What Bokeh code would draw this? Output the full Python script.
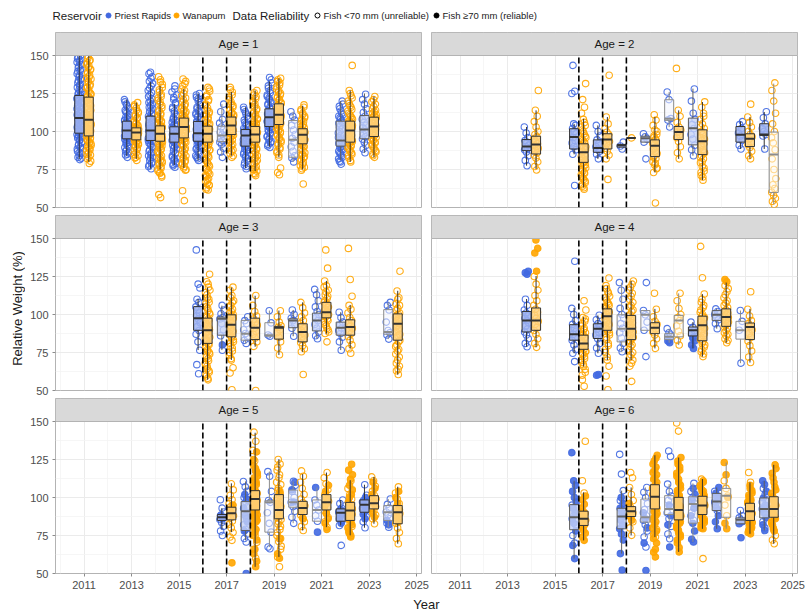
import math
from bokeh.plotting import figure
from bokeh.layouts import column, row
from bokeh.models import Range1d, FixedTicker, ColumnDataSource
from bokeh.core.properties import value
from bokeh.embed import file_html
from bokeh.resources import INLINE

# ---------------- data ----------------
x_ticks = [2011, 2013, 2015, 2017, 2019, 2021, 2023, 2025]
x_minor = [2010, 2012, 2014, 2016, 2018, 2020, 2022, 2024]
y_ticks = [50, 75, 100, 125, 150]
y_minor = [62.5, 87.5, 112.5, 137.5]
dam_years = [2016, 2017, 2018]
reservoir_names = ["Priest Rapids", "Wanapum"]
reliability_names = ["Fish <70 mm (unreliable)", "Fish \u226570 mm (reliable)"]

# ---- Age 1
age1_year = [2011, 2011, 2013, 2013, 2014, 2014, 2015, 2015, 2016, 2016, 2017, 2017,
             2018, 2018, 2019, 2019, 2020, 2020, 2022, 2022, 2023, 2023]
age1_res = ["PR", "W"] * 11
age1_lo = [82, 80, 84, 82, 75.5, 75, 78, 76, 81, 77, 84, 84, 76, 74, 90, 83, 80, 75, 81, 80, 86, 83]
age1_q1 = [98.9, 97.1, 95.2, 94.5, 94.1, 93.6, 93, 95.8, 93.6, 93, 93.4, 98, 90.4, 93, 103.3, 104.6, 83.1, 91.9, 90.4, 93, 95.2, 96.7]
age1_med = [108.8, 107.7, 100.7, 99.3, 100.7, 98.5, 98.5, 102.9, 98.9, 98.5, 97.4, 104, 97.4, 98, 109.4, 111, 94.5, 97.8, 94.1, 100.7, 101.3, 103.3]
age1_q3 = [123.7, 122.6, 106.8, 102.4, 110.1, 103.7, 103.1, 108.8, 106.6, 103.5, 103.5, 109.5, 101.3, 103.3, 114.9, 118.2, 107.2, 101.8, 106.8, 106.8, 110.5, 109.4]
age1_hi = [150, 150, 121, 119, 132.5, 130, 118, 128, 125, 119, 118, 126, 116, 127, 133, 135, 113, 117, 120, 127, 125, 123]
age1_qual = ["R", "R", "R", "R", "R", "R", "R", "R", "R", "R", "U", "R", "R", "R", "R", "R", "U", "R", "M", "R", "M", "R"]
age1_open = [
    [81.5, 83, 85.5, 86, 88.5, 90, 91, 92.5, 94, 95.5, 96, 97.5, 98, 99.5, 100, 101.5, 102, 103.5, 104, 105, 106.5, 107, 108, 109.5, 110, 111, 112.5, 113, 114.5, 116, 117, 118.5, 120, 121.5, 123, 124.5, 126, 127.5, 129, 131, 133.5, 135, 137, 139.5, 141, 143, 145.5, 147, 149],
    [79, 82, 84.5, 86, 87.5, 89, 90.5, 92, 93, 94.5, 95, 96.5, 97, 98.5, 99, 100.5, 101, 102.5, 103, 104.5, 105, 106, 107.5, 108, 109, 110.5, 111, 112.5, 114, 115, 116.5, 118, 119, 120.5, 122, 123.5, 125, 127, 128.5, 130, 132, 134.5, 136, 138, 140.5, 142, 144, 146.5, 148],
    [83, 84.5, 86, 88, 89.5, 91, 92, 93, 94, 94.5, 95.5, 96, 97, 97.5, 98.5, 99, 100, 100.5, 101.5, 102, 103, 103.5, 104.5, 105, 106, 107, 108, 109.5, 111, 112.5, 114, 116, 118, 121],
    [81, 82.5, 84, 86, 87.5, 89, 90.5, 91.5, 92.5, 93.5, 94, 95, 95.5, 96.5, 97, 98, 98.5, 99.5, 100, 101, 101.5, 102.5, 103, 104, 105.5, 107, 108.5, 110, 112, 114, 116.5, 119],
    [75.5, 78, 80, 82.5, 84, 86, 88, 89.5, 91, 92.5, 93.5, 94.5, 95.5, 96.5, 97.5, 98.5, 99.5, 100.5, 101, 102, 103.5, 104.5, 105.5, 107, 108.5, 110, 111.5, 113, 115, 117, 119, 121.5, 124, 127, 130, 133, 136, 139],
    [56.5, 58.5, 70, 72.5, 74, 76, 78, 79.5, 81, 82.5, 84, 85.5, 87, 88, 89.5, 90.5, 91.5, 92.5, 93.5, 94.5, 95.5, 96, 97, 98, 98.5, 99.5, 100.5, 101.5, 102.5, 103.5, 104.5, 106, 107.5, 109, 111, 113, 115.5, 118, 120.5, 123, 126, 129, 132.5, 136],
    [76.5, 78.5, 80, 82, 84, 85.5, 87, 88.5, 90, 91, 92, 93, 94, 95, 95.5, 96.5, 97.5, 98, 99, 100, 100.5, 101.5, 102.5, 103.5, 104.5, 106, 107.5, 109, 111, 113.5, 116, 119, 122.5, 126, 130],
    [54.5, 61, 74.5, 76, 78, 80, 82, 84, 86, 87.5, 89, 90.5, 92, 93.5, 94.5, 95.5, 96.5, 97.5, 98.5, 99.5, 100.5, 101.5, 102.5, 103.5, 104, 105, 106, 107, 108, 109, 110.5, 112, 113.5, 115, 117, 119.5, 122, 125, 128, 131.5, 134.5],
    [81, 83, 85, 87, 88.5, 90, 91.5, 92.5, 93.5, 94.5, 95.5, 96.5, 97, 98, 99, 99.5, 100.5, 101.5, 102.5, 103.5, 104.5, 105.5, 106.5, 108, 109.5, 111, 113, 115, 117.5, 120, 122.5, 125],
    [61.5, 63, 64.5, 66, 67.5, 69, 70.5, 72, 74, 76, 78, 80, 82, 84, 86, 87.5, 89, 90.5, 91.5, 92.5, 93.5, 94.5, 95.5, 96.5, 97.5, 98.5, 99.5, 100.5, 101.5, 102.5, 103.5, 104.5, 106, 107.5, 109, 111, 113, 115.5, 118, 121, 124, 126.5, 129],
    [83, 86.5, 89, 91.5, 93, 94, 95.5, 97, 98, 99.5, 101, 103, 105.5, 108, 113, 118],
    [83, 85.5, 88, 90.5, 92.5, 94.5, 96, 97.5, 98.5, 99.5, 100.5, 101.5, 102.5, 103.5, 104.5, 105.5, 106.5, 107.5, 108.5, 109.5, 111, 112.5, 114.5, 117, 119.5, 122.5, 126, 129],
    [75.5, 78, 80.5, 83, 85, 87, 88.5, 89.5, 90.5, 91.5, 92.5, 93.5, 94.5, 95.5, 96.5, 97.5, 98.5, 99.5, 100.5, 101.5, 103, 105, 107.5, 110, 113, 116],
    [71, 72.5, 74, 76, 78, 80, 82, 84, 86, 87.5, 89, 90.5, 91.5, 92.5, 93.5, 94.5, 95.5, 96.5, 97.5, 98.5, 99.5, 100.5, 101.5, 102.5, 103.5, 104.5, 105.5, 107, 108.5, 110, 112, 114, 116.5, 119, 121.5, 124, 127],
    [89.5, 91.5, 93.5, 95.5, 97, 98.5, 100, 101.5, 102.5, 103.5, 104.5, 105.5, 106.5, 107.5, 108.5, 109.5, 110.5, 111.5, 112.5, 113.5, 114.5, 116, 117.5, 119, 121, 123, 125.5, 128.5, 132, 135.5],
    [71.5, 73, 76, 83, 86, 88.5, 91, 93, 95, 97, 99, 100.5, 102, 103.5, 104.5, 105.5, 106.5, 107.5, 108.5, 109.5, 110.5, 111.5, 112.5, 113.5, 114.5, 115.5, 116.5, 117.5, 119, 120.5, 122, 124, 126, 128, 130.5, 133, 135],
    [80, 82.5, 84, 87, 90, 93, 95.5, 98, 101, 104, 107.5, 110, 113],
    [65.5, 74.5, 76.5, 78.5, 80.5, 82.5, 84.5, 86, 87.5, 89, 90, 91, 92, 93, 94, 95, 96, 96.5, 97.5, 98.5, 99.5, 100.5, 101.5, 102.5, 103.5, 105, 106.5, 108, 110, 112, 114.5, 117.5],
    [78.5, 80.5, 83, 85, 87, 88.5, 89.5, 90.5, 91.5, 92.5, 93.5, 94.5, 96, 98, 100, 102, 104, 105.5, 107, 109, 111, 113.5, 116.5, 120],
    [80, 82.5, 85, 87, 89, 90.5, 92, 93.5, 95, 96.5, 97.5, 98.5, 99.5, 100.5, 101.5, 102.5, 103.5, 104.5, 105.5, 106.5, 108, 110, 112, 114.5, 117, 120, 123.5, 127, 143.5],
    [86, 88.5, 91, 93, 95, 96.5, 98, 99.5, 101, 102.5, 104, 106, 108, 110, 112.5, 115, 118, 121, 124.5],
    [83, 85, 87.5, 89.5, 91.5, 93, 94.5, 96, 97, 98, 99, 100, 101, 102, 103, 104, 105, 106, 107, 108, 109, 110.5, 112, 114, 116.5, 119.5, 123],
]
# second reading pass of the densest age-1 clouds (group index -> values)
age1_open_more = {
    0: [82.5, 84, 87, 89, 91.5, 93, 94.5, 96.5, 98.5, 100.5, 102.5, 104.5, 105.5, 107.5, 108.5, 110.5, 111.5, 113.5, 115, 116.5, 118, 119, 121, 122, 124, 125.5, 128, 130, 132, 134, 136, 138, 140, 142, 144, 146, 148, 150],
    1: [80.5, 83, 85, 88, 89.5, 91, 92.5, 94, 96, 97.5, 99.5, 101.5, 102, 104, 105.5, 106.5, 108.5, 109.5, 111.5, 113, 114.5, 117, 118.5, 120, 121, 123, 124.5, 126, 129, 131, 133, 135, 137, 139, 141, 143, 145, 147, 149.5],
    2: [85, 87, 90, 92.5, 95, 96.5, 98, 99.5, 101, 102.5, 104, 105.5, 107.5, 110, 113, 115, 117, 119.5],
    3: [83, 85, 88, 90, 92, 93, 94.5, 96, 97.5, 99, 100.5, 102, 103.5, 105, 106, 109, 111, 113, 115.5, 117.5],
    4: [77, 79, 81, 83, 85, 87, 90, 92, 94, 96, 98, 100, 102.5, 104, 106, 109, 112, 114, 116, 118, 120, 123, 125.5, 128.5, 131.5, 135, 138],
    5: [71, 73, 75, 77, 79, 80.5, 83, 86, 88.5, 91, 93, 95, 96.5, 97.5, 99, 100, 101, 102, 103, 104, 105, 107, 108.5, 110, 112, 114, 117, 119.5, 122, 124.5, 127.5, 131, 134],
    6: [77.5, 79, 81, 83, 86, 89, 91.5, 93.5, 96, 98.5, 101, 103, 105, 108, 110, 112, 115, 118, 121, 124, 128],
    7: [75, 77, 79, 81, 83, 85, 88, 91, 93, 95, 97, 99, 101, 103, 104.5, 105.5, 106.5, 107.5, 108.5, 110, 111, 113, 114.5, 116, 118, 121, 123.5, 127, 130, 133],
    8: [82, 84, 86, 89, 91, 93, 95, 97.5, 100, 102, 104, 106, 107.5, 110, 112, 114, 116, 119, 121.5, 124],
    9: [62, 65, 68, 71, 73, 75, 77, 79, 81, 83, 85, 88, 91, 93, 95, 97, 99, 101, 103, 105, 108, 110, 112, 114, 117, 120, 123, 128],
    11: [84, 87, 89, 91.5, 93.5, 95, 97, 99, 101, 103, 105, 107, 109, 110, 112, 114, 116, 118, 121, 124, 127.5],
    12: [77, 79.5, 82, 84, 86, 88, 90, 92, 94, 96, 98, 100, 102, 104, 106, 108.5, 111.5, 114.5],
    13: [72, 75, 77, 79, 81, 83, 85, 88, 91, 93, 95, 97, 99, 101, 103, 105, 106, 108, 111, 113, 115, 118, 120, 123, 125.5],
    14: [90.5, 92.5, 94.5, 96.5, 99, 101, 103, 105, 107, 109, 111, 113, 115, 118, 120, 122, 124, 127, 130, 134],
    15: [84.5, 87, 89.5, 92, 94, 96, 98, 100, 101.5, 103, 105, 107, 109, 111, 113, 115, 117, 118.5, 121, 123, 125, 127, 129.5, 132, 134],
    17: [75.5, 77.5, 79.5, 81.5, 83.5, 85, 88, 90.5, 92.5, 94.5, 96, 97, 99, 101, 103, 104.5, 107, 109, 111, 113.5, 116],
    18: [80, 82, 84, 86, 88, 90, 92, 95, 97, 99, 101, 103, 106, 108, 110, 112, 115, 118],
    19: [81, 84, 86, 88, 90, 91, 93, 94.5, 96, 98, 100, 102, 104, 106, 107, 109, 111, 113.5, 116, 118.5, 122, 125],
    21: [84, 86.5, 88.5, 90.5, 92.5, 94, 95.5, 97.5, 99.5, 101.5, 103.5, 105.5, 107.5, 109.5, 111, 113, 115, 118, 121],
}
age1_filled = [[] for _ in age1_year]
age1_filled_more = {}

# ---- Age 2
age2_year = [2014, 2014, 2016, 2016, 2017, 2017, 2018, 2018, 2019, 2019, 2020, 2020, 2021, 2021, 2023, 2023, 2024, 2024]
age2_res = ["PR", "W"] * 9
age2_lo = [77.5, 75.3, 85, 63.2, 82, 82, 89.7, 95.8, 93, 73.1, 102.9, 82, 84.1, 68.1, 88.5, 82, 88.5, 52.2]
age2_q1 = [87.4, 85.2, 88.5, 79.7, 86.3, 88.5, 89.7, 95.8, 93, 83.5, 107.3, 94.7, 91.2, 84.8, 93, 90.1, 97.4, 59.9]
age2_med = [90.1, 91.4, 96.3, 86.3, 89.2, 94.7, 91, 95.8, 95.6, 90.7, 108.4, 99.6, 102.2, 93.6, 97.8, 95.2, 98, 84.8]
age2_q3 = [94.7, 96.9, 101.8, 91.9, 94.5, 98.5, 91.5, 95.8, 96.9, 94.5, 120.9, 103.3, 108.8, 101.1, 103.3, 98.5, 105.1, 99.6]
age2_hi = [103, 113.9, 105, 108.4, 104, 109.5, 91.5, 95.8, 98.5, 109.5, 126, 113.9, 128.2, 119.4, 106.6, 109.5, 112.8, 131.5]
age2_qual = ["R", "R", "R", "R", "R", "R", "R", "R", "M", "R", "U", "R", "M", "R", "R", "R", "R", "U"]
age2_open = [
    [77.5, 81, 84, 86.5, 88, 89, 90, 91, 92.5, 94, 96, 99, 103],
    [74.7, 77, 80, 82.5, 84.5, 86, 87.5, 89, 90, 91, 92, 93.5, 95, 96.5, 98, 100, 103, 106.5, 110, 114, 127],
    [64.5, 85, 88, 90, 92.5, 94, 96, 98.5, 100, 102, 104, 105, 125, 126.5, 143.5],
    [62, 64, 66.5, 68.5, 70.5, 72.5, 74, 76, 77.5, 79, 80.5, 82, 83.5, 85, 86.5, 88, 89.5, 91, 92.5, 94, 96, 98.5, 101, 104, 108, 112, 116, 121, 131.5],
    [82, 85, 87, 88.5, 90, 92, 94.5, 97, 100, 104],
    [68.5, 82, 84.5, 87, 89, 90.5, 92, 93.5, 95, 96.5, 98, 99.5, 102, 105, 109.5, 137],
    [88.5, 90.5, 93],
    [95.8],
    [82, 93, 95, 96.5, 98.5],
    [53, 73, 75.5, 78, 80, 82, 84, 85.5, 87, 88.5, 90, 91.5, 93, 94.5, 96, 98, 101, 104, 107.5, 111],
    [103, 107.5, 108.5, 121, 126],
    [82, 86, 90, 93.5, 96, 98, 99.5, 101, 103, 106, 110, 114, 141.5],
    [84, 88, 91, 95, 98, 102, 104.5, 108, 112, 120, 128],
    [68, 71, 74, 77, 79.5, 82, 84, 86, 88, 90, 92, 94, 96, 98, 100, 102, 105, 108, 112, 116, 119.5],
    [88.5, 91, 94, 97, 99, 102, 104.5, 106.5],
    [82, 84, 87, 89.5, 91.5, 93, 95, 96.5, 98, 100, 103, 106, 109.5, 118],
    [88.5, 97, 98, 100, 102, 105, 109, 113],
    [52, 54, 56, 58, 60, 62.5, 65, 69, 75, 82, 88, 92.5, 96, 100, 105, 112, 120, 127, 132],
]
age2_open_more = {
    3: [63, 65, 67.5, 69.5, 71.5, 73, 75, 78, 79.5, 81, 84, 87, 90, 93, 95, 97, 100, 103, 106],
    9: [76, 79, 83, 86, 89, 92, 95, 97, 100],
    13: [70, 73, 76, 80, 83, 87, 91, 95, 99, 103, 110],
}
age2_filled = [[] for _ in age2_year]
age2_filled_more = {}

# ---- Age 3
age3_year = [2016, 2016, 2017, 2017, 2018, 2018, 2019, 2019, 2020, 2020, 2021, 2021, 2022, 2022, 2024, 2024]
age3_res = ["PR", "W"] * 8
age3_lo = [76.6, 57.1, 76.6, 70.1, 80.9, 78.8, 85.7, 73.4, 85.7, 75.5, 84.2, 87.4, 76.6, 77.7, 83.8, 60.4]
age3_q1 = [89.6, 81, 86.4, 85.3, 83.1, 83.5, 85.7, 83.8, 91.3, 82, 89.2, 97.8, 86.4, 86.4, 87, 83.1]
age3_med = [97.6, 89.6, 97.2, 93.3, 87.4, 91.3, 86.4, 91.3, 96.1, 88.5, 96.1, 101.5, 91.3, 91.8, 88.5, 93.9]
age3_q3 = [105.2, 97.6, 98.3, 99.8, 96.1, 97.6, 94.6, 92.2, 97.2, 93.9, 100.9, 108, 95, 96.5, 103.2, 100.4]
age3_hi = [110.2, 117.7, 105.8, 117.7, 98.3, 112.3, 102.6, 102.6, 103, 108, 116.7, 122.1, 101.5, 106.3, 108, 115.6]
age3_qual = ["R", "R", "M", "R", "U", "R", "U", "R", "M", "R", "M", "R", "M", "R", "U", "R"]
age3_open = [
    [61, 67, 76.5, 82, 87, 89.5, 92, 94.5, 97, 99, 101, 103, 105, 108, 110, 117.5, 120, 142.5],
    [57, 59.5, 62, 64.5, 67, 69.5, 72, 74, 76, 78, 80, 82, 84, 86, 88, 90, 92, 94, 96, 98, 100, 102.5, 105, 108, 111, 114.5, 118, 121.5, 126.5],
    [76.5, 86, 90, 94, 97, 98, 100.5, 103, 106],
    [50.5, 61.5, 65, 70, 73, 76, 79, 82, 84.5, 86.5, 88.5, 90.5, 92.5, 94, 96, 97.5, 99, 101, 103.5, 106, 109, 112.5, 116, 118],
    [81, 83, 85.5, 87.5, 90, 94, 96, 98.5],
    [50, 79, 82, 84.5, 87, 89, 91, 93, 95, 97, 99, 102, 106, 112.5],
    [85.7, 86.5, 94.5, 102.5],
    [73.5, 78, 82, 85, 88, 90, 91.5, 92.5, 95, 98.5, 102.5],
    [85.7, 91, 93.5, 96, 97.5, 100, 103],
    [60.5, 75.5, 77.5, 79.5, 81.5, 83.5, 85, 86.5, 88, 89.5, 91, 92.5, 94, 96, 98.5, 101, 104.5, 108],
    [84, 86, 88.5, 91, 93.5, 96, 98, 100, 102, 105, 109, 113, 116.5],
    [82, 87.5, 90, 92.5, 95, 97, 98.5, 100, 101.5, 103, 104.5, 106, 108, 110.5, 113, 116, 119, 122, 130.5, 142.5],
    [76.5, 82, 85, 87.5, 89.5, 91, 93, 95, 98, 101.5],
    [74.5, 77.5, 80, 83, 85.5, 87.5, 89.5, 91, 92.5, 94, 96, 98, 101, 103.5, 106, 112, 123, 143.5],
    [83.8, 86.5, 88, 89.5, 95, 103, 106, 108],
    [60.5, 63, 66, 70, 74, 77, 80, 83, 86, 88.5, 91, 93, 95, 97, 99, 101, 104, 107, 111, 115.5, 128.5],
]
age3_open_more = {
    1: [58, 60.5, 63, 66, 68, 71, 73, 75, 77, 79, 81, 83, 85, 87, 89, 91, 93, 95, 97, 99, 101, 104, 107, 110, 113, 116, 120],
    3: [71, 75, 78, 81, 83.5, 85.5, 87.5, 89.5, 91.5, 93, 95, 98.5, 100, 102, 105, 108, 111],
    11: [88.5, 91, 93.5, 96, 99, 100.5, 102, 103.5, 105, 107, 109, 112, 115, 118],
    15: [64, 68, 72, 76, 79, 82, 85, 87, 90, 92, 94, 96, 98, 100, 103, 106, 110],
}
age3_filled = [[], [], [80], [], [], [], [], [], [], [], [], [], [], [], [], []]
age3_filled_more = {}

# ---- Age 4
age4_year = [2014, 2014, 2016, 2016, 2017, 2017, 2018, 2018, 2019, 2019, 2020, 2020, 2021, 2021, 2022, 2022, 2023, 2023]
age4_res = ["PR", "W"] * 9
age4_lo = [78.8, 78.4, 74.5, 65.8, 74.5, 70.1, 75.5, 70, 89.6, 77.7, 81.4, 79.9, 77.7, 72.3, 90.7, 81.4, 68, 68.4]
age4_q1 = [88.5, 89.6, 83.1, 77.1, 84.2, 89.6, 82, 83.5, 89.6, 87.4, 83.5, 85.3, 85.9, 82.7, 96.1, 92.2, 83.8, 83.5]
age4_med = [96.1, 96.1, 87, 81, 90.7, 98.9, 90.7, 90.7, 99.8, 91.3, 85.3, 96.1, 89.6, 92.9, 99.8, 98.3, 89.6, 91.8]
age4_q3 = [102, 104.3, 93.3, 86.4, 93.9, 103.7, 99.8, 99.4, 102.6, 94.6, 87.4, 99.4, 91.8, 98.9, 102.6, 103.7, 95.5, 94.4]
age4_hi = [110.2, 125.3, 104.3, 98.3, 99.4, 118.8, 121, 122, 102.6, 103.7, 90.7, 113.9, 95, 113.4, 103.7, 121, 102.6, 103.7]
age4_qual = ["R", "R", "R", "R", "R", "R", "U", "R", "U", "R", "U", "U", "R", "R", "M", "R", "U", "R"]
age4_open = [
    [78.8, 81, 84, 86.5, 88.5, 90.5, 92.5, 94.5, 96, 97.5, 99, 101, 103, 106, 110],
    [78.4, 81, 84, 87, 89.5, 91.5, 93.5, 95.5, 97.5, 99.5, 101.5, 103.5, 106, 109, 112.5, 116, 120, 125],
    [69, 74.5, 77, 80, 83, 85, 87, 89, 91, 93.5, 96, 100, 104, 135],
    [52.8, 57, 62, 65.8, 68.5, 71, 73.5, 75.5, 77, 78.5, 80, 81.5, 83, 84.5, 86, 88, 90, 92.5, 95.5, 98, 103, 109],
    [74.5, 78, 81, 84, 86.5, 88.5, 90.5, 92, 94, 96.5, 99.5],
    [50.5, 59.5, 66, 70, 75, 79.5, 83.5, 86.5, 89, 91, 93, 95, 97, 98.5, 100, 101.5, 103, 105, 107, 109.5, 112, 115, 119, 124],
    [75.5, 78, 81, 84.5, 88, 91, 94, 97.5, 100, 104, 110, 116, 121],
    [56, 66, 70, 73.5, 77, 80, 82.5, 85, 87.5, 89.5, 91.5, 93.5, 95.5, 97.5, 100, 103, 106, 110, 114, 118, 122],
    [72.3, 89.6, 95, 99.8, 102.6, 121],
    [77.7, 81, 84, 86.5, 88.5, 90.5, 92, 93.5, 95.5, 98.5, 103.5, 114],
    [83.5, 85, 86.5, 88, 90.7],
    [79.9, 83, 86, 89, 92.5, 96, 98, 100, 104, 109, 114],
    [85, 87, 89.5, 91.5, 95],
    [72.3, 75.5, 78.5, 81, 83.5, 86, 88.5, 91, 93, 95, 97, 99, 101.5, 104.5, 108, 113.5, 124.2, 144.8],
    [90.7, 94, 96.5, 98.5, 100, 102, 103.7],
    [81.4, 84, 87, 89.5, 92, 94, 96, 98, 100, 102, 104.5, 107.5, 111, 115, 119],
    [68, 89.6, 95.5, 102.6],
    [68.4, 72, 76, 79.5, 82.5, 85, 87.5, 90, 92, 94, 96, 99, 103.5, 115],
]
age4_open_more = {
    3: [60, 64, 67, 70, 72.5, 74.5, 76, 79, 82, 85, 87, 89, 91, 94, 97],
    5: [72, 77, 81, 85, 88, 90, 92, 94, 96, 99, 102, 104, 106, 108, 111, 114, 117],
    7: [68, 72, 75, 79, 81, 84, 86.5, 88.5, 90.5, 92.5, 94.5, 96.5, 99, 102, 105, 108, 112, 116, 120],
    13: [74, 77, 80, 82, 85, 87.5, 90, 92, 94, 96, 98, 100, 103, 106, 110],
    15: [83, 86, 88, 91, 93, 95, 97, 99, 101, 103, 106, 109, 113, 117],
}
age4_filled = [[126.5, 127.5, 128.5], [128.5, 140.5, 143.5, 149], [], [], [60.5, 60], [], [], [], [], [],
               [81.4, 82.5], [], [77.7, 80, 82.5, 84.5], [], [], [121.5, 123], [], []]
age4_filled_more = {}

# ---- Age 5
age5_year = [2017, 2017, 2018, 2018, 2019, 2019, 2020, 2020, 2021, 2021, 2022, 2022, 2023, 2023, 2024, 2024]
age5_res = ["PR", "W"] * 8
age5_lo = [79, 77.2, 71.8, 54.4, 67.4, 60.9, 83.1, 78.3, 84.4, 80.5, 81.6, 75.1, 80.1, 82.7, 80.5, 69.6]
age5_q1 = [84.9, 85.3, 78.3, 91.8, 77.2, 86, 93.6, 88.8, 84.4, 91.8, 84.4, 84.9, 90.3, 92.5, 84.9, 82.7]
age5_med = [87, 89.7, 91, 99, 96.8, 91.8, 96.8, 93.1, 91.8, 96.8, 89.9, 91.4, 95.3, 96.2, 90.3, 90.3]
age5_q3 = [88.8, 93.6, 97.3, 104.5, 97.9, 101.9, 104.9, 97.5, 98.4, 101.9, 92.5, 96.8, 98.4, 101.2, 94.7, 94.7]
age5_hi = [93, 109.3, 110.6, 142.6, 117.1, 125.2, 110.6, 115.4, 106.6, 116.4, 98.4, 111.4, 108.4, 113.6, 99, 107.1]
age5_qual = ["R", "R", "M", "R", "U", "R", "U", "R", "U", "R", "R", "R", "R", "R", "U", "R"]
age5_open = [
    [75, 78, 81, 83.5, 85.5, 87, 88.5, 90.5, 93, 98.5],
    [71.8, 74, 77, 80, 82.5, 84.5, 86.5, 88, 89.5, 91, 92.5, 94, 96, 98.5, 101.5, 105, 109],
    [70.7, 73, 76, 79, 82, 86, 90, 94, 97, 100, 104, 107, 110.5],
    [60, 66, 70.5, 75, 80, 86, 92, 98, 104, 110, 117, 124, 131, 137, 143],
    [66.3, 67.4, 77.2, 83, 90, 96.8, 98, 104, 114, 117],
    [54.4, 60.9, 66, 71, 75, 79, 82.5, 85.5, 88, 90.5, 93, 95.5, 98, 101, 104.5, 108.5, 113, 118, 122, 125],
    [83, 87, 91, 94, 96.8, 100, 104, 108, 110.6],
    [78.3, 81, 84, 86.5, 88.5, 90.5, 92.5, 94.5, 96.5, 99, 102, 106, 110, 114, 117.5],
    [84.4, 88, 91.8, 95, 98.4],
    [80.5, 84, 87, 89.5, 91.5, 93.5, 95.5, 97.5, 99.5, 102, 105, 109, 113, 116.4],
    [68.5, 81.6, 85, 88, 90.5, 93, 96, 98.4],
    [75, 78, 81, 83.5, 86, 88.5, 90.5, 92.5, 94.5, 96.5, 99, 102, 106, 111],
    [80.1, 84, 87.5, 90.5, 93, 95.5, 98, 101.5, 108.4],
    [82.7, 86, 88.5, 91, 93, 95, 97, 99, 101.5, 104, 107.5, 111, 113.6],
    [80.5, 83, 86, 88.5, 90.5, 93, 95.5, 99],
    [69.6, 73, 77, 80, 83, 85.5, 87.5, 89.5, 91.5, 93.5, 96, 99, 103, 107],
]
age5_open_more = {
    5: [68, 73, 77, 81, 84, 87, 89, 92, 94, 97, 99.5, 102.5, 106, 110, 115, 120],
}
age5_filled = [
    [86, 88],
    [57, 90, 95],
    [50, 78, 84, 88, 93, 99, 102],
    [54.5, 63, 72, 77, 81, 84, 86.5, 88.5, 90.5, 92.5, 94.5, 96.5, 98, 99.5, 101, 102.5, 104, 106, 108.5, 111, 114, 117.5, 121],
    [],
    [60, 63, 73, 88, 96, 104],
    [97, 105, 110],
    [86, 91, 95],
    [77.2, 106.6],
    [79, 83, 86, 90, 94, 99, 104, 108],
    [83, 86, 89, 92],
    [74, 77, 82, 87, 91, 95, 100, 105, 112, 118, 121.9],
    [86, 89, 92, 94.5, 97, 100],
    [87, 90, 94, 98, 102, 106, 110],
    [82, 85],
    [84, 88, 92, 96, 100, 104],
]
age5_filled_more = {
    3: [58, 66, 75, 79, 83, 85, 87.5, 89.5, 91.5, 93.5, 95.5, 97.5, 100, 103, 105, 107, 110, 113, 116, 119, 125, 130],
    11: [76, 80, 84, 86, 89, 93, 97, 102, 108, 115],
}

# ---- Age 6
age6_year = [2016, 2016, 2018, 2018, 2019, 2019, 2020, 2020, 2021, 2021, 2022, 2022, 2023, 2023, 2024, 2024]
age6_res = ["PR", "W"] * 8
age6_lo = [59.8, 71.8, 63.1, 75.1, 74, 74, 72.9, 64.2, 70.7, 79.4, 79.4, 79.4, 82.7, 76.1, 78.3, 69.6]
age6_q1 = [78.8, 81.6, 79.4, 87.5, 83.8, 92.5, 88.8, 85.3, 83.1, 88.8, 91.4, 87, 82.7, 84.9, 86.6, 87]
age6_med = [87, 86, 87.5, 91, 87, 100.5, 92.5, 91.8, 95.8, 94.7, 97.3, 101.2, 85.3, 91, 92.5, 92.5]
age6_q3 = [95.3, 91, 92.9, 94, 99, 108.4, 101.2, 100.1, 100.5, 100.8, 102.7, 106, 86.6, 96.2, 99.7, 100.5]
age6_hi = [111, 103.4, 104.5, 106.6, 106.6, 127.8, 108.8, 126.3, 109.3, 112.1, 106.6, 123, 91.4, 109.9, 111, 121.5]
age6_qual = ["M", "R", "M", "R", "U", "R", "U", "R", "U", "R", "M", "U", "M", "R", "M", "R"]
age6_open = [
    [70, 75, 82, 88, 95],
    [103, 111, 137],
    [92, 98, 104.5, 115.4, 128.4],
    [75.1, 80, 84, 87, 89.5, 91.5, 94, 98, 102, 106.6, 113, 116.4],
    [67.4, 74, 78, 82, 85, 88, 92, 96, 100, 103.5, 106.6],
    [74, 76, 79],
    [72.9, 76, 81, 86, 90, 94, 98, 101, 104, 108.8, 127, 130.6],
    [75, 80, 84, 143.7, 149],
    [85, 90, 96, 100, 104, 109.3],
    [59.8, 80, 86, 92, 98, 104, 112.1],
    [91.4, 95, 98, 101, 104],
    [88, 95, 101, 106, 111],
    [85.3, 86.6, 88, 91.4],
    [110, 116.4],
    [80, 84, 89, 93, 97, 102, 106],
    [69.6, 72, 75, 79, 83, 87, 91, 95, 99, 103],
]
age6_open_more = {}
age6_filled = [
    [59.8, 68.5, 78, 83, 86, 90, 93, 97, 100, 104, 108, 111, 129.5],
    [71.8, 74, 76.5, 78.5, 80.5, 82, 83.5, 85, 86.5, 88, 89.5, 91, 93, 95.5, 98.5, 101],
    [52.2, 63.1, 72, 76, 79.4, 82, 85, 87.5, 90, 92.9, 96, 100],
    [85, 88, 90, 92, 96],
    [52, 70, 80, 86, 90],
    [60.9, 64, 70, 76.5, 80, 84, 87, 89.5, 92, 94.5, 97, 99.5, 102, 104.5, 107, 110, 113, 116.5, 120, 124, 127.8],
    [67.4, 82, 88, 95],
    [64.2, 70, 74, 77, 80, 83, 85.5, 87.5, 89.5, 91.5, 93.5, 95.5, 97.5, 100, 103, 106, 110, 114, 118, 122, 126.3],
    [70.7, 72.5, 78, 83, 88, 93, 98, 102, 106],
    [79.4, 82, 85, 87.5, 89.5, 91.5, 93.5, 95.5, 97.5, 99.5, 102, 105, 108, 111],
    [79.4, 84, 88, 93, 97, 100, 102.7, 106.6],
    [79.4, 83, 100, 115, 123],
    [73.5, 82.7, 84],
    [76.1, 78.5, 80.5, 82.5, 84.5, 86.5, 88, 89.5, 91, 92.5, 94, 95.5, 97, 99, 101.5, 104.5, 108],
    [78.3, 82, 86.6, 90, 92.5, 95, 99.7, 104, 108.5, 111],
    [78, 82, 86, 89, 92.5, 96, 100.5, 105, 110, 116, 121.5],
]
age6_filled_more = {
    5: [66, 73, 78, 82, 85.5, 88, 91, 93, 96, 98, 101, 103, 106, 108.5, 112, 115, 118, 122, 126],
    7: [67, 72, 75.5, 78.5, 81.5, 84, 86.5, 88.5, 90.5, 92.5, 94.5, 96.5, 99, 101.5, 104.5, 108, 112, 116, 120, 124],
    9: [80.5, 83.5, 86, 88.5, 90.5, 92.5, 94.5, 96.5, 98.5, 101, 104, 107, 110],
    13: [77, 79.5, 81.5, 83.5, 85.5, 87, 90, 93, 96, 98, 100, 103, 106],
    15: [80, 84, 87.5, 90.5, 94, 98, 102.5, 107, 113, 119],
}

# ---------------- styling / layout ----------------
FONT = "Liberation Sans"
COL = {"PR": "#4169E1", "W": "#FFA500"}
DODGE = {"PR": -0.2, "W": 0.2}
BOX_W = 0.38
JIT = 0.1
PT_SIZE = 6.5
QUAL_STYLE = {"R": (0.5, "#333333", 0.85), "M": (0.3, "#5E5E5E", 0.8), "U": (0.07, "#8C8C8C", 0.55)}
X0, X1 = 2009.8, 2025.2
Y0, Y1 = 50, 150
PLOT_H = 152          # px of the data area
STRIP_H = 23          # px of the facet strip
GAP = 8               # px between facet rows
AXIS_H = 20           # px for the bottom axis
PX_PER_UNIT = PLOT_H / (Y1 - Y0)
Y_TOP = Y1 + STRIP_H / PX_PER_UNIT   # top of strip in data units


def blend(hexc, a):
    r, g, b = int(hexc[1:3], 16), int(hexc[3:5], 16), int(hexc[5:7], 16)
    return "#%02x%02x%02x" % (round(255 + (r - 255) * a), round(255 + (g - 255) * a), round(255 + (b - 255) * a))


PANELS = {
    1: (age1_year, age1_res, age1_lo, age1_q1, age1_med, age1_q3, age1_hi, age1_qual,
        age1_open, age1_open_more, age1_filled, age1_filled_more),
    2: (age2_year, age2_res, age2_lo, age2_q1, age2_med, age2_q3, age2_hi, age2_qual,
        age2_open, age2_open_more, age2_filled, age2_filled_more),
    3: (age3_year, age3_res, age3_lo, age3_q1, age3_med, age3_q3, age3_hi, age3_qual,
        age3_open, age3_open_more, age3_filled, age3_filled_more),
    4: (age4_year, age4_res, age4_lo, age4_q1, age4_med, age4_q3, age4_hi, age4_qual,
        age4_open, age4_open_more, age4_filled, age4_filled_more),
    5: (age5_year, age5_res, age5_lo, age5_q1, age5_med, age5_q3, age5_hi, age5_qual,
        age5_open, age5_open_more, age5_filled, age5_filled_more),
    6: (age6_year, age6_res, age6_lo, age6_q1, age6_med, age6_q3, age6_hi, age6_qual,
        age6_open, age6_open_more, age6_filled, age6_filled_more),
}

COMMON = dict(output_backend="svg", toolbar_location=None, title_location=None)


def make_panel(age, left, bottom):
    years, res, lo, q1, med, q3, hi, qual, opn, opn2, fil, fil2 = PANELS[age]
    p = figure(width=404 if left else 380, height=STRIP_H + PLOT_H + (AXIS_H if bottom else GAP),
               x_range=Range1d(X0, X1), y_range=Range1d(Y0, Y_TOP),
               x_axis_location="below" if bottom else None,
               y_axis_location="left" if left else None,
               min_border_left=30 if left else 2, min_border_right=8 if left else 12,
               min_border_top=0, min_border_bottom=AXIS_H if bottom else GAP, **COMMON)
    xt = FixedTicker(ticks=x_ticks, minor_ticks=x_minor)
    yt = FixedTicker(ticks=y_ticks, minor_ticks=y_minor)
    p.xgrid.ticker = xt
    p.ygrid.ticker = yt
    for g in (p.xgrid, p.ygrid):
        g.grid_line_color = "#EBEBEB"
        g.grid_line_width = 1
        g.minor_grid_line_color = "#F4F4F4"
        g.minor_grid_line_width = 0.8
    p.outline_line_color = "#B3B3B3"
    p.outline_line_width = 1
    axes = []
    if left:
        p.yaxis.ticker = yt
        axes.append(p.yaxis)
    if bottom:
        p.xaxis.ticker = xt
        axes.append(p.xaxis)
    for ax in axes:
        ax.axis_line_color = None
        ax.major_tick_line_color = "#8C8C8C"
        ax.major_tick_out = 3
        ax.major_tick_in = 0
        ax.minor_tick_line_color = None
        ax.major_label_text_font = FONT
        ax.major_label_text_font_size = "11px"
        ax.major_label_text_color = "#4D4D4D"
        ax.major_label_standoff = 3

    # jittered points (drawn below the boxes)
    for rc in ("PR", "W"):
        for filled in (False, True):
            xs, ys = [], []
            for k in range(len(years)):
                if res[k] != rc:
                    continue
                vals = (fil[k] + fil2.get(k, [])) if filled else (opn[k] + opn2.get(k, []))
                c = years[k] + DODGE[rc]
                for i, v in enumerate(vals):
                    xs.append(c + JIT * 2 * ((((i + 1) * 0.6180339887) % 1.0) - 0.5))
                    ys.append(v)
            if xs:
                p.scatter(xs, ys, marker="circle", size=PT_SIZE, line_color=COL[rc], line_width=1.1,
                          line_alpha=0.9, fill_color=COL[rc] if filled else None, fill_alpha=0.9)

    bx = dict(x=[], xl=[], xr=[], lo=[], q1=[], med=[], q3=[], hi=[], fill=[], edge=[], fa=[])
    for k in range(len(years)):
        c = years[k] + DODGE[res[k]]
        a, edge, fa = QUAL_STYLE[qual[k]]
        bx["x"].append(c)
        bx["xl"].append(c - BOX_W / 2)
        bx["xr"].append(c + BOX_W / 2)
        bx["lo"].append(lo[k])
        bx["q1"].append(q1[k])
        bx["med"].append(med[k])
        bx["q3"].append(q3[k])
        bx["hi"].append(hi[k])
        bx["fill"].append(blend(COL[res[k]], a))
        bx["edge"].append(edge)
        bx["fa"].append(fa)
    src = ColumnDataSource(bx)
    p.segment(x0="x", x1="x", y0="q3", y1="hi", line_color="edge", line_width=1, source=src)
    p.segment(x0="x", x1="x", y0="lo", y1="q1", line_color="edge", line_width=1, source=src)
    p.vbar(x="x", width=BOX_W, bottom="q1", top="q3", fill_color="fill", fill_alpha="fa",
           line_color="edge", line_width=1, source=src)
    p.segment(x0="xl", x1="xr", y0="med", y1="med", line_color="edge", line_width=2, source=src)

    # dam-year reference lines
    p.segment(x0=dam_years, x1=dam_years, y0=[Y0] * len(dam_years), y1=[Y1] * len(dam_years),
              line_color="black", line_width=1.6, line_dash="6 3")

    # facet strip on top of the data area
    p.quad(left=[X0], right=[X1], bottom=[Y1], top=[Y_TOP], fill_color="#D9D9D9",
           line_color="#B3B3B3", line_width=1)
    p.text(x=[(X0 + X1) / 2], y=[(Y1 + Y_TOP) / 2], text=["Age = %d" % age], text_align="center",
           text_baseline="middle", text_font=value(FONT), text_font_size="11.5px", text_color="#1A1A1A")
    return p


# legend strip
leg = figure(width=809, height=32, x_range=Range1d(0, 809), y_range=Range1d(32, 0),
             x_axis_location=None, y_axis_location=None,
             min_border_left=0, min_border_right=0, min_border_top=0, min_border_bottom=0, **COMMON)
leg.grid.visible = False
leg.outline_line_color = None
leg_y = 15
leg.text(x=[52, 232], y=[leg_y, leg_y], text=["Reservoir", "Data Reliability"], text_align="left",
         text_baseline="middle", text_font=value(FONT), text_font_size="11.5px", text_color="#1A1A1A")
leg.scatter(x=[108, 176], y=[leg_y, leg_y], marker="circle", size=5,
            fill_color=[COL["PR"], COL["W"]], line_color=[COL["PR"], COL["W"]])
leg.text(x=[114, 182], y=[leg_y, leg_y], text=reservoir_names, text_align="left", text_baseline="middle",
         text_font=value(FONT), text_font_size="9.5px", text_color="#1A1A1A")
leg.scatter(x=[317], y=[leg_y], marker="circle", size=5, fill_color=None, line_color="black", line_width=1)
leg.scatter(x=[436], y=[leg_y], marker="circle", size=5, fill_color="black", line_color="black")
leg.text(x=[323, 442], y=[leg_y, leg_y], text=reliability_names, text_align="left", text_baseline="middle",
         text_font=value(FONT), text_font_size="9.5px", text_color="#1A1A1A")

# y-axis title
YLAB_H = 2 * (STRIP_H + PLOT_H + GAP) + STRIP_H + PLOT_H + AXIS_H
ylab = figure(width=25, height=YLAB_H, x_range=Range1d(0, 25), y_range=Range1d(0, YLAB_H),
              x_axis_location=None, y_axis_location=None,
              min_border_left=0, min_border_right=0, min_border_top=0, min_border_bottom=0, **COMMON)
ylab.grid.visible = False
ylab.outline_line_color = None
ylab.text(x=[17], y=[YLAB_H - 276], text=["Relative Weight (%)"], angle=math.pi / 2, text_align="center",
          text_baseline="middle", text_font=value(FONT), text_font_size="13px", text_color="#1A1A1A")

# x-axis title
XLAB_H = 613 - 32 - YLAB_H
xlab = figure(width=809, height=XLAB_H, x_range=Range1d(0, 809), y_range=Range1d(XLAB_H, 0),
              x_axis_location=None, y_axis_location=None,
              min_border_left=0, min_border_right=0, min_border_top=0, min_border_bottom=0, **COMMON)
xlab.grid.visible = False
xlab.outline_line_color = None
xlab.text(x=[426], y=[XLAB_H / 2 + 1], text=["Year"], text_align="center", text_baseline="middle",
          text_font=value(FONT), text_font_size="13px", text_color="#1A1A1A")

left_col = column(make_panel(1, True, False), make_panel(3, True, False), make_panel(5, True, True))
right_col = column(make_panel(2, False, False), make_panel(4, False, False), make_panel(6, False, True))
layout = column(leg, row(ylab, left_col, right_col), xlab)

open("out.html", "w").write(file_html(layout, INLINE, title="Relative weight by age"))
